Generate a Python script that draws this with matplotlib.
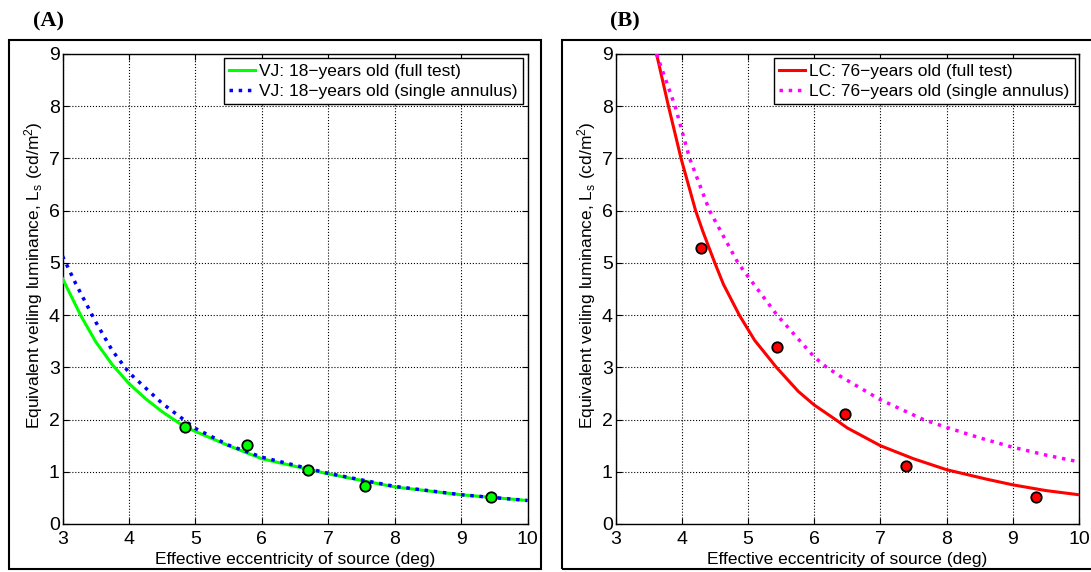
import matplotlib
matplotlib.use("Agg")
import matplotlib.pyplot as plt
from matplotlib.patches import Rectangle


# Output
OUT_FILE = "out.png"
DPI = 100
W, H = 1091, 572

# Panel A: VJ, 18 years old
A_FULL_X = [3.0, 3.28, 3.5, 3.75, 4.0, 4.25, 4.5, 4.84, 5.5, 6.0, 7.0, 8.0, 9.0, 10.0]
A_FULL_Y = [4.70, 3.98, 3.49, 3.05, 2.69, 2.40, 2.15, 1.86, 1.50, 1.25, 0.96, 0.71, 0.56, 0.45]
A_SINGLE_X = [3.0, 3.2, 3.5, 3.75, 4.0, 4.5, 5.0, 5.5, 6.0, 7.0, 8.0, 9.0, 10.0]
A_SINGLE_Y = [5.13, 4.60, 3.87, 3.32, 2.90, 2.31, 1.83, 1.51, 1.28, 0.97, 0.72, 0.56, 0.45]
A_PTS_X = [4.84, 5.78, 6.70, 7.55, 9.45]
A_PTS_Y = [1.86, 1.52, 1.03, 0.73, 0.52]

# Panel B: LC, 76 years old
B_FULL_X = [3.62, 3.80, 3.99, 4.21, 4.32, 4.50, 4.63, 4.87, 5.10, 5.43, 5.76, 6.0,
            6.3, 6.5, 7.0, 7.5, 8.0, 8.6, 9.0, 9.5, 10.0]
B_FULL_Y = [9.0, 8.0, 7.0, 6.0, 5.6, 5.0, 4.59, 4.0, 3.52, 3.0, 2.54, 2.28,
            2.02, 1.84, 1.50, 1.25, 1.04, 0.86, 0.75, 0.64, 0.56]
B_SINGLE_X = [3.62, 3.76, 3.90, 4.12, 4.42, 4.85, 5.0, 5.44, 6.0, 6.19, 6.38, 7.0,
              7.65, 8.0, 8.5, 9.0, 9.5, 10.0]
B_SINGLE_Y = [9.0, 8.5, 8.0, 7.0, 6.0, 5.0, 4.74, 4.0, 3.2, 3.0, 2.84, 2.38,
              2.0, 1.85, 1.65, 1.47, 1.32, 1.19]
B_PTS_X = [4.29, 5.44, 6.47, 7.38, 9.35]
B_PTS_Y = [5.29, 3.38, 2.11, 1.12, 0.52]

XTICKS = [3, 4, 5, 6, 7, 8, 9, 10]
YTICKS = [0, 1, 2, 3, 4, 5, 6, 7, 8, 9]

XLABEL = "Effective eccentricity of source (deg)"
YLABEL = "Equivalent veiling luminance, L$_\\mathregular{s}$ (cd/m$^\\mathregular{2}$)"

plt.rcParams["font.family"] = ["Liberation Sans", "DejaVu Sans"]
plt.rcParams["mathtext.default"] = "regular"


def px_rect(x0, y0, x1, y1):
    """Pixel-Box (oben links = 0,0) in Figure-Koordinaten."""
    return [x0 / W, 1 - y1 / H, (x1 - x0) / W, (y1 - y0) / H]


def style_axes(ax):
    """MATLAB-artiges Aussehen: Gitter gepunktet, Ticks innen."""
    ax.set_xlim(3, 10)
    ax.set_ylim(0, 9)
    ax.set_xticks(XTICKS)
    ax.set_yticks(YTICKS)
    ax.tick_params(direction="in", top=True, right=True, length=4,
                   labelsize=14)
    ax.tick_params(axis="x", pad=5)
    ax.tick_params(axis="y", pad=2)
    ax.grid(True, color="black", linestyle=":", linewidth=0.8)
    for sp in ax.spines.values():
        sp.set_linewidth(1.0)
    ax.set_xlabel(XLABEL, fontsize=12.5, labelpad=3)
    ax.set_ylabel(YLABEL, fontsize=12.5, labelpad=3, y=0.53)


def draw_panel(ax, full_x, full_y, single_x, single_y, pts_x, pts_y,
               c_full, c_single, lab_full, lab_single):
    ax.plot(full_x, full_y, color=c_full, lw=2.2, label=lab_full, zorder=3)
    ax.plot(single_x, single_y, color=c_single, lw=2.5, linestyle=":",
            label=lab_single, zorder=4)
    ax.plot(pts_x, pts_y, "o", color=c_full, markeredgecolor="black",
            markeredgewidth=1.3, markersize=7.5, zorder=5)
    style_axes(ax)
    leg = ax.legend(loc="upper right", fontsize=12.5, handlelength=1.5,
                    handletextpad=0.25, borderpad=0.3, labelspacing=0.3,
                    borderaxespad=0.25, fancybox=False, framealpha=1)
    leg.get_frame().set_edgecolor("black")
    leg.get_frame().set_linewidth(1.0)


def main():
    fig = plt.figure(figsize=(W / DPI, H / DPI), dpi=DPI)

    ax_a = fig.add_axes(px_rect(62.5, 54, 527.5, 524))
    ax_b = fig.add_axes(px_rect(615.5, 54, 1079, 524))

    draw_panel(ax_a, A_FULL_X, A_FULL_Y, A_SINGLE_X, A_SINGLE_Y, A_PTS_X, A_PTS_Y,
               (0, 1, 0), (0, 0, 1),
               "VJ: 18\u2212years old (full test)",
               "VJ: 18\u2212years old (single annulus)")
    draw_panel(ax_b, B_FULL_X, B_FULL_Y, B_SINGLE_X, B_SINGLE_Y, B_PTS_X, B_PTS_Y,
               (1, 0, 0), (1, 0, 1),
               "LC: 76\u2212years old (full test)",
               "LC: 76\u2212years old (single annulus)")

    # Rahmen um die Panels
    for x0, x1 in [(9, 541), (562, 1100)]:
        r = px_rect(x0, 40, x1, 569)
        fig.add_artist(Rectangle((r[0], r[1]), r[2], r[3],
                                 transform=fig.transFigure, fill=False,
                                 edgecolor="black", lw=1.5))

    # Panel-Buchstaben
    for x, txt in [(48, "(A)"), (625, "(B)")]:
        fig.text(x / W, 1 - 21 / H, txt, ha="center", va="center",
                 fontsize=16, fontweight="bold", family="Liberation Serif")

    fig.savefig(OUT_FILE, dpi=DPI)
    plt.close(fig)


if __name__ == "__main__":
    main()
